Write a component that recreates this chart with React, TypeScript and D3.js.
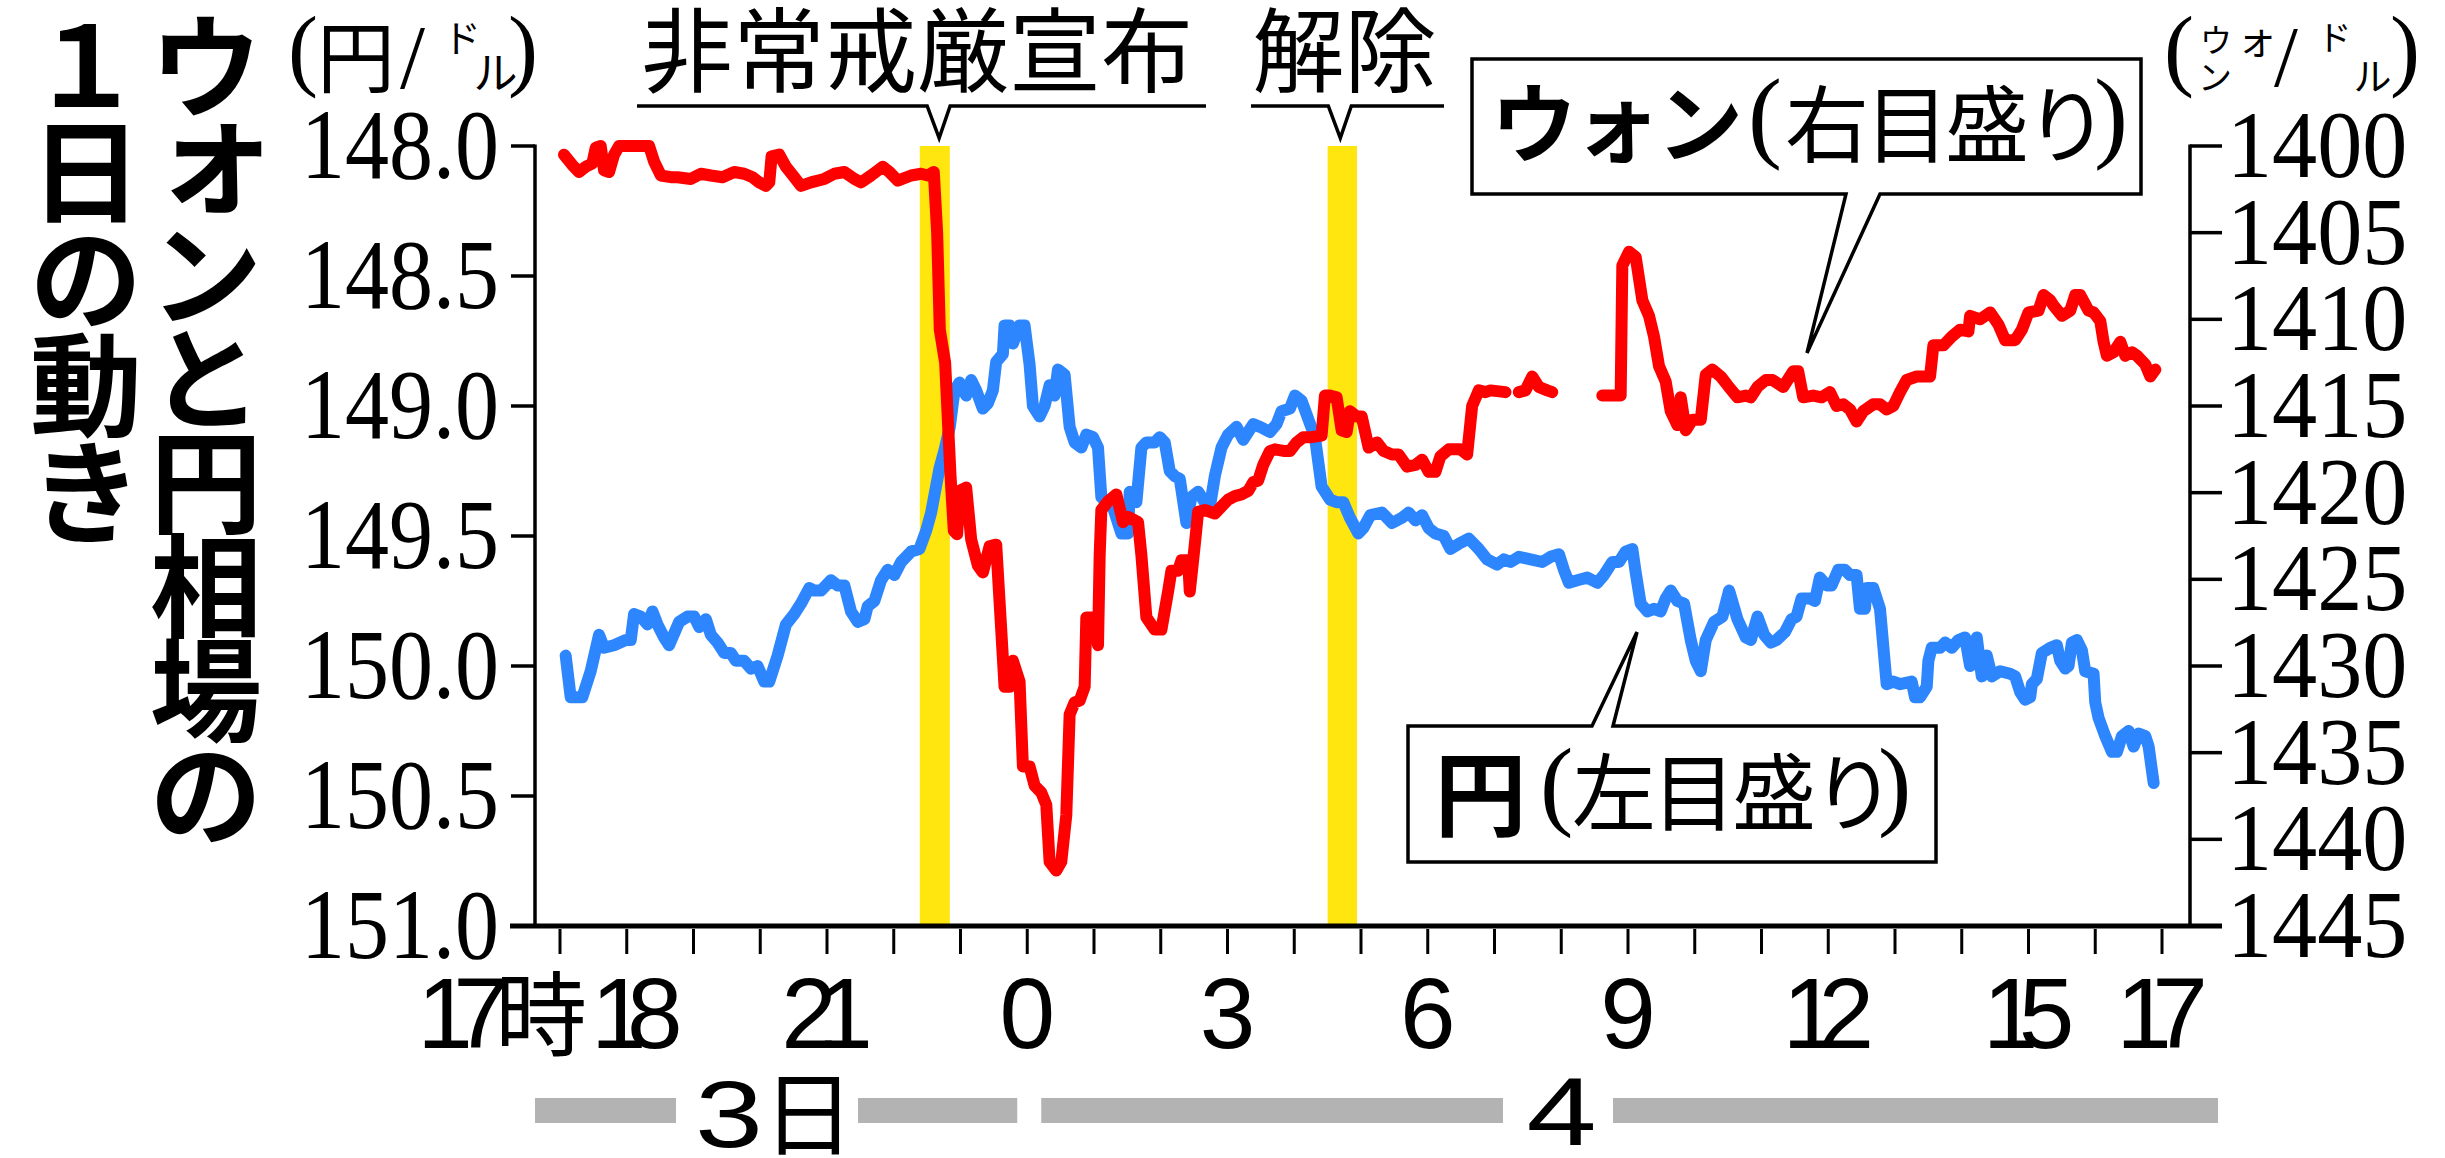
import React from "react";
import * as d3 from "d3";

// ---- data (hours after 17:00 on the 3rd) ----
const yenTimes = [0.085,0.16,0.335,0.46,0.585,0.66,0.81,0.985,1.06,1.11,1.21,1.31,1.385,1.46,1.56,1.635,1.785,1.91,2.01,2.085,2.185,2.26,2.36,2.46,2.56,2.635,2.76,2.86,2.96,3.06,3.135,3.26,3.385,3.51,3.61,3.735,3.81,3.91,4.06,4.16,4.26,4.36,4.46,4.56,4.61,4.71,4.81,4.91,5.01,5.11,5.26,5.385,5.485,5.56,5.685,5.76,5.84,5.91,5.985,6.085,6.16,6.235,6.335,6.41,6.485,6.535,6.635,6.66,6.735,6.785,6.885,6.96,7.035,7.085,7.185,7.26,7.335,7.41,7.46,7.56,7.635,7.71,7.81,7.885,7.985,8.06,8.11,8.185,8.285,8.41,8.51,8.535,8.635,8.71,8.785,8.91,8.985,9.06,9.135,9.21,9.285,9.385,9.46,9.56,9.66,9.735,9.81,9.91,10.01,10.135,10.235,10.385,10.485,10.635,10.735,10.81,10.935,11.01,11.11,11.21,11.31,11.41,11.535,11.635,11.735,11.835,11.96,12.035,12.14,12.315,12.465,12.615,12.715,12.815,12.915,13.015,13.115,13.24,13.34,13.465,13.615,13.765,13.89,14.04,14.14,14.24,14.365,14.54,14.715,14.84,14.965,15.04,15.115,15.24,15.39,15.54,15.64,15.765,15.865,15.965,16.065,16.115,16.19,16.29,16.39,16.49,16.565,16.64,16.74,16.84,16.94,17.015,17.09,17.165,17.29,17.415,17.515,17.64,17.765,17.84,17.94,18.04,18.14,18.225,18.35,18.45,18.525,18.6,18.725,18.8,18.875,18.975,19.05,19.15,19.25,19.325,19.425,19.475,19.55,19.575,19.675,19.775,19.875,19.975,20.075,20.25,20.3,20.375,20.475,20.5,20.55,20.675,20.75,20.85,20.95,21.05,21.125,21.175,21.225,21.3,21.375,21.45,21.575,21.725,21.8,21.875,21.95,22.025,22.05,22.125,22.2,22.325,22.425,22.475,22.55,22.6,22.65,22.725,22.8,22.85,22.975,23.0,23.05,23.15,23.25,23.325,23.4,23.5,23.575,23.65,23.75,23.8,23.875];
const yenRates = [149.96,150.12,150.12,150.02,149.88,149.93,149.92,149.9,149.9,149.8,149.81,149.84,149.79,149.84,149.89,149.92,149.83,149.81,149.81,149.85,149.82,149.88,149.91,149.95,149.95,149.98,149.98,150.01,150.0,150.06,150.06,149.96,149.84,149.8,149.76,149.7,149.71,149.71,149.67,149.69,149.69,149.79,149.83,149.82,149.77,149.75,149.67,149.63,149.65,149.6,149.56,149.55,149.48,149.41,149.24,149.17,149.08,148.94,148.91,148.96,148.9,148.94,149.01,148.99,148.94,148.83,148.8,148.69,148.69,148.76,148.69,148.69,148.84,149.0,149.04,149.0,148.92,148.96,148.86,148.88,149.08,149.14,149.16,149.11,149.12,149.16,149.35,149.37,149.39,149.49,149.49,149.33,149.37,149.16,149.14,149.14,149.12,149.14,149.25,149.27,149.28,149.45,149.35,149.33,149.37,149.39,149.27,149.16,149.11,149.08,149.13,149.07,149.08,149.1,149.07,149.02,149.01,148.96,148.98,149.05,149.12,149.31,149.36,149.37,149.37,149.43,149.49,149.47,149.42,149.41,149.45,149.43,149.41,149.44,149.42,149.47,149.49,149.5,149.55,149.53,149.51,149.55,149.59,149.61,149.59,149.6,149.58,149.59,149.6,149.58,149.57,149.63,149.68,149.67,149.66,149.68,149.65,149.6,149.6,149.56,149.55,149.64,149.76,149.79,149.78,149.79,149.74,149.71,149.75,149.76,149.9,149.98,150.02,149.9,149.83,149.81,149.71,149.82,149.89,149.9,149.81,149.88,149.91,149.9,149.87,149.82,149.81,149.74,149.74,149.75,149.66,149.69,149.69,149.63,149.63,149.65,149.65,149.78,149.78,149.7,149.7,149.78,150.07,150.06,150.07,150.06,150.12,150.12,150.08,149.98,149.93,149.93,149.91,149.93,149.9,149.89,150.0,149.94,149.89,150.04,149.96,150.04,150.02,150.03,150.04,150.1,150.13,150.12,150.07,150.05,149.95,149.93,149.92,149.98,150.01,150.0,149.91,149.9,149.94,150.02,150.03,150.14,150.2,150.27,150.33,150.33,150.27,150.25,150.31,150.26,150.27,150.31,150.45];

const wonTimes = [0.06,0.185,0.285,0.385,0.485,0.535,0.61,0.66,0.735,0.81,0.885,1.06,1.16,1.26,1.335,1.41,1.51,1.66,1.76,1.96,2.11,2.26,2.435,2.61,2.76,2.885,2.985,3.085,3.135,3.17,3.285,3.385,3.51,3.61,3.76,3.96,4.11,4.26,4.41,4.51,4.66,4.835,4.935,5.06,5.26,5.41,5.51,5.6,5.65,5.69,5.77,5.85,5.9,5.95,5.985,6.085,6.16,6.26,6.335,6.435,6.535,6.61,6.66,6.735,6.785,6.885,6.935,7.035,7.11,7.21,7.285,7.335,7.435,7.51,7.585,7.635,7.71,7.785,7.86,7.885,7.985,8.06,8.085,8.11,8.21,8.335,8.435,8.51,8.66,8.71,8.785,8.91,9.01,9.11,9.16,9.26,9.31,9.41,9.435,9.51,9.56,9.66,9.81,9.91,10.01,10.11,10.21,10.31,10.385,10.46,10.535,10.635,10.71,10.86,10.935,11.035,11.135,11.26,11.41,11.46,11.535,11.635,11.71,11.785,11.835,11.935,12.01,12.115,12.24,12.34,12.465,12.565,12.69,12.815,12.915,13.015,13.115,13.19,13.315,13.49,13.59,13.665,13.765,13.865,13.94,14.165,14.265,14.365,14.465,14.565,14.665,14.79,14.865,15.2,15.615,15.89,15.915,16.015,16.115,16.215,16.315,16.39,16.465,16.565,16.64,16.74,16.79,16.865,16.965,17.09,17.165,17.265,17.39,17.49,17.64,17.765,17.84,17.94,18.065,18.165,18.325,18.475,18.55,18.625,18.775,18.9,19.025,19.125,19.225,19.325,19.425,19.525,19.675,19.775,19.875,19.975,20.075,20.175,20.325,20.525,20.575,20.725,20.85,20.975,21.1,21.125,21.275,21.425,21.55,21.65,21.8,21.9,22.0,22.15,22.225,22.325,22.375,22.5,22.625,22.7,22.775,22.9,22.975,23.075,23.125,23.175,23.275,23.375,23.45,23.55,23.625,23.75,23.825,23.9];
const wonRates = [1400.5,1401.1,1401.5,1401.2,1401.0,1400.1,1400,1401.4,1401.5,1400.5,1400,1400,1400,1400,1400,1400.9,1401.7,1401.8,1401.8,1401.9,1401.6,1401.7,1401.8,1401.5,1401.6,1401.8,1402.1,1402.3,1402.1,1400.6,1400.5,1401.2,1401.8,1402.3,1402.1,1401.9,1401.6,1401.5,1401.9,1402.1,1401.7,1401.2,1401.5,1402.0,1401.7,1401.6,1401.7,1401.5,1405,1410.6,1412.5,1419,1422.2,1422.4,1419.9,1419.7,1422.7,1424.2,1424.6,1423.1,1423.0,1427.9,1431.2,1431.2,1429.7,1430.9,1435.8,1435.8,1436.9,1437.3,1438.0,1441.3,1441.8,1441.3,1438.6,1432.8,1432.1,1432.0,1431.2,1427.2,1427.2,1428.8,1423.6,1421.0,1420.5,1420.1,1421.7,1421.4,1421.7,1423.6,1427.2,1427.9,1427.9,1425.7,1424.5,1424.5,1423.9,1423.9,1425.7,1423.0,1421.1,1421.0,1421.2,1420.8,1420.4,1420.2,1420.1,1419.9,1419.4,1419.3,1418.4,1417.6,1417.5,1417.6,1417.6,1417.1,1416.8,1416.8,1416.7,1414.4,1414.4,1414.5,1416.4,1416.5,1415.3,1415.6,1415.6,1417.4,1417.1,1417.6,1417.8,1417.8,1418.5,1418.4,1418.1,1418.8,1418.8,1417.9,1417.5,1417.5,1417.8,1415.0,1414.1,1414.2,1414.1,1414.2,NaN,1414.2,1414.1,1413.3,1413.9,1414.1,1414.2,NaN,1414.4,1414.4,1406.9,1406.1,1406.4,1408.9,1409.8,1411.0,1412.7,1413.6,1415.3,1416.1,1414.5,1416.4,1415.8,1415.8,1413.2,1412.9,1413.3,1413.8,1414.5,1414.4,1414.5,1413.9,1413.5,1413.5,1413.9,1413.0,1413.0,1414.5,1414.4,1414.5,1414.2,1415.0,1414.9,1415.2,1415.9,1415.3,1414.9,1414.9,1415.2,1415.0,1414.2,1413.5,1413.3,1413.3,1411.5,1411.5,1411.0,1410.6,1410.7,1409.8,1410.0,1409.6,1410.3,1411.2,1411.2,1410.6,1409.6,1409.5,1408.6,1408.9,1409.2,1409.8,1409.5,1408.6,1408.6,1409.5,1409.6,1410.1,1411.3,1412.1,1411.9,1411.3,1412.1,1411.9,1412.1,1412.6,1413.3,1412.9];

const hourTicks = [0,1,2,3,4,5,6,7,8,9,10,11,12,13,14,15,16,17,18,19,20,21,22,23,24];
const hourLabels = ["17時","18","21","0","3","6","9","12","15","17"];
const hourLabelTimes = [0,1,4,7,10,13,16,19,22,24];
const yenTicks = [148.0,148.5,149.0,149.5,150.0,150.5,151.0];
const wonTicks = [1400,1405,1410,1415,1420,1425,1430,1435,1440,1445];
const eventStarts = [5.39,11.5];
const eventEnds = [5.84,11.94];
const eventTips = [5.68,11.69];
const eventLabels = ["非常戒厳宣布","解除"];
const titleRight = ["ウ","ォ","ン","と","円","相","場","の"];
const titleLeft = ["１","日","の","動","き"];

const W = 2445, H = 1158;
const CJK = '"Noto Sans CJK JP", sans-serif';
const SERIF = '"Liberation Serif", "Times New Roman", serif';
const SANS = '"Liberation Sans", Arial, sans-serif';
const RED = "#ff0000", BLUE = "#2e86ff", YELLOW = "#ffe60f", GRAY = "#b3b3b3";

export default function App() {
  const x = d3.scaleLinear().domain([0, 24]).range([560, 2162]);
  const yYen = d3.scaleLinear().domain([148, 151]).range([146, 926]);
  const yWon = d3.scaleLinear().domain([1400, 1445]).range([146, 926]);
  const plotL = 535, plotR = 2190, plotT = 146, plotB = 926;

  const yenPts = yenTimes.map((t, i) => [t, yenRates[i]] as [number, number]);
  const wonPts = wonTimes.map((t, i) => [t, wonRates[i]] as [number, number]);
  const yenLine = d3.line<[number, number]>().x(d => x(d[0])).y(d => yYen(d[1]));
  const wonLine = d3.line<[number, number]>().defined(d => !isNaN(d[1])).x(d => x(d[0])).y(d => yWon(d[1]));

  const cjk = (s: string, cx: number, cy: number, fs: number, weight = 400, extra: any = {}) => (
    <text x={cx} y={cy + 0.38 * fs} fontSize={fs} fontFamily={CJK} fontWeight={weight} textAnchor="middle" {...extra}>{s}</text>
  );

  const hourLabelEls = hourLabels.map((lab, i) => {
    const cx = x(hourLabelTimes[i]);
    const base = 1048;
    const common = { fontSize: 100, fontFamily: SANS, textAnchor: "middle" as const };
    if (lab.endsWith("時")) {
      return (
        <g key={i}>
          <text x={cx - 115} y={base} {...common}>{lab[0]}</text>
          <text x={cx - 79} y={base} {...common}>{lab[1]}</text>
          {cjk("時", cx - 19, 1014, 92)}
        </g>
      );
    }
    const off = lab === "18" ? 10 : 0;
    if (lab.length === 2) {
      return (
        <g key={i}>
          <text x={cx + off - 18} y={base} {...common}>{lab[0]}</text>
          <text x={cx + off + 18} y={base} {...common}>{lab[1]}</text>
        </g>
      );
    }
    return <text key={i} x={cx} y={base} {...common}>{lab}</text>;
  });

  return (
    <svg width={W} height={H} style={{ position: "absolute", left: 0, top: 0, display: "block" }}>
      <rect x={0} y={0} width={W} height={H} fill="#fff" />

      {/* title, vertical */}
      {titleRight.map((c, i) =>
        c === "ォ"
          ? <text key={"r" + i} x={215} y={202} fontSize={125} fontFamily={CJK} fontWeight={700} textAnchor="middle">{c}</text>
          : <React.Fragment key={"r" + i}>{cjk(c, 206, 66 + 104 * i, 112, 700)}</React.Fragment>
      )}
      {titleLeft.map((c, i) => <React.Fragment key={"l" + i}>{cjk(c, 86, 64 + 107 * i, 112, 700)}</React.Fragment>)}

      {/* unit labels */}
      <g fontFamily={SERIF}>
        <text x={288} y={79} fontSize={90}>(</text>
        <text x={538} y={79} fontSize={90} textAnchor="end">)</text>
        <text x={400} y={88} fontSize={90}>/</text>
        <text x={2164} y={79} fontSize={90}>(</text>
        <text x={2420} y={79} fontSize={90} textAnchor="end">)</text>
        <text x={2274} y={86} fontSize={86}>/</text>
      </g>
      {cjk("円", 356, 57.5, 78)}
      {cjk("ド", 462, 38, 38)}
      {cjk("ル", 495.5, 72.5, 44)}
      {cjk("ウ", 2216, 40, 32)}
      {cjk("ン", 2215, 77, 34)}
      <text x={2237} y={54} fontSize={40} fontFamily={CJK}>ォ</text>
      {cjk("ド", 2334.5, 37.5, 34)}
      {cjk("ル", 2372.5, 76, 38)}

      {/* event bands */}
      {eventStarts.map((s, i) => (
        <rect key={"b" + i} x={x(s)} y={plotT} width={x(eventEnds[i]) - x(s)} height={plotB - plotT} fill={YELLOW} />
      ))}

      {/* event annotations */}
      {eventLabels.map((lab, i) => {
        const tip = x(eventTips[i]);
        const cx = i === 0 ? 917 : 1344.5;
        const l = i === 0 ? 637 : 1251;
        const r = i === 0 ? 1206 : 1444;
        return (
          <g key={"e" + i}>
            {cjk(lab, cx, 50, 92)}
            <polyline points={`${l},106 ${tip - 12},106 ${tip},138 ${tip + 11},106 ${r},106`} fill="none" stroke="#000" strokeWidth={3.5} />
          </g>
        );
      })}

      {/* axes */}
      <line x1={plotL} x2={plotL} y1={plotT - 1.5} y2={plotB} stroke="#000" strokeWidth={3.5} />
      <line x1={plotR} x2={plotR} y1={plotT - 1.5} y2={plotB} stroke="#000" strokeWidth={3.5} />
      {yenTicks.map((v, i) => (
        <g key={"yt" + i}>
          <line x1={511} x2={plotL} y1={yYen(v)} y2={yYen(v)} stroke="#000" strokeWidth={3.5} />
          <text transform={`translate(499,${yYen(v)}) scale(0.88,1)`} x={0} y={32} fontSize={100} fontFamily={SERIF} textAnchor="end">{v.toFixed(1)}</text>
        </g>
      ))}
      {wonTicks.map((v, i) => (
        <g key={"wt" + i}>
          <line x1={plotR} x2={2222} y1={yWon(v)} y2={yWon(v)} stroke="#000" strokeWidth={3.5} />
          <text transform={`translate(2227,${yWon(v)}) scale(0.94,1)`} x={0} y={31} fontSize={96} fontFamily={SERIF}>{v}</text>
        </g>
      ))}
      <line x1={510} x2={2222} y1={plotB} y2={plotB} stroke="#000" strokeWidth={5} />
      {hourTicks.map(t => (
        <line key={"ht" + t} x1={x(t)} x2={x(t)} y1={929} y2={954} stroke="#000" strokeWidth={3} />
      ))}
      {hourLabelEls}

      {/* day bars */}
      <rect x={plotL} y={1098} width={676 - plotL} height={25} fill={GRAY} />
      <rect x={858} y={1098} width={x(7) - 10 - 858} height={25} fill={GRAY} />
      <rect x={x(7) + 14} y={1098} width={1503 - x(7) - 14} height={25} fill={GRAY} />
      <rect x={1613} y={1098} width={2218 - 1613} height={25} fill={GRAY} />
      <text transform="translate(729,1147) scale(1.3,1)" x={0} y={0} fontSize={94} fontFamily={SANS} textAnchor="middle">3</text>
      {cjk("日", 808.5, 1113, 92)}
      <text transform="translate(1561.5,1145) scale(1.3,1)" x={0} y={0} fontSize={97} fontFamily={SANS} textAnchor="middle">4</text>

      {/* lines */}
      <path d={yenLine(yenPts) || ""} fill="none" stroke={BLUE} strokeWidth={12} strokeLinejoin="round" strokeLinecap="round" />
      <path d={wonLine(wonPts) || ""} fill="none" stroke={RED} strokeWidth={12} strokeLinejoin="round" strokeLinecap="round" />

      {/* callout boxes */}
      <path d="M1472,59 H2141 V194 H1880 L1807,353 L1846,194 H1472 Z" fill="#fff" stroke="#000" strokeWidth={3.5} />
      <text x={1491} y={156} fontSize={86} fontFamily={CJK} fontWeight={700} letterSpacing={-3}>ウォン</text>
      <text x={1748} y={149} fontSize={102} fontFamily={SERIF}>(</text>
      <text x={1785} y={156} fontSize={84} fontFamily={CJK} letterSpacing={-4}>右目盛り</text>
      <text x={2094} y={149} fontSize={102} fontFamily={SERIF}>)</text>

      <path d="M1408,726 H1592 L1637,632 L1613,726 H1936 V862 H1408 Z" fill="#fff" stroke="#000" strokeWidth={3.5} />
      {cjk("円", 1480.5, 794, 92, 700)}
      <text x={1540} y={817} fontSize={100} fontFamily={SERIF}>(</text>
      <text x={1572} y={824} fontSize={84} fontFamily={CJK} letterSpacing={-4}>左目盛り</text>
      <text x={1878} y={817} fontSize={100} fontFamily={SERIF}>)</text>
    </svg>
  );
}
